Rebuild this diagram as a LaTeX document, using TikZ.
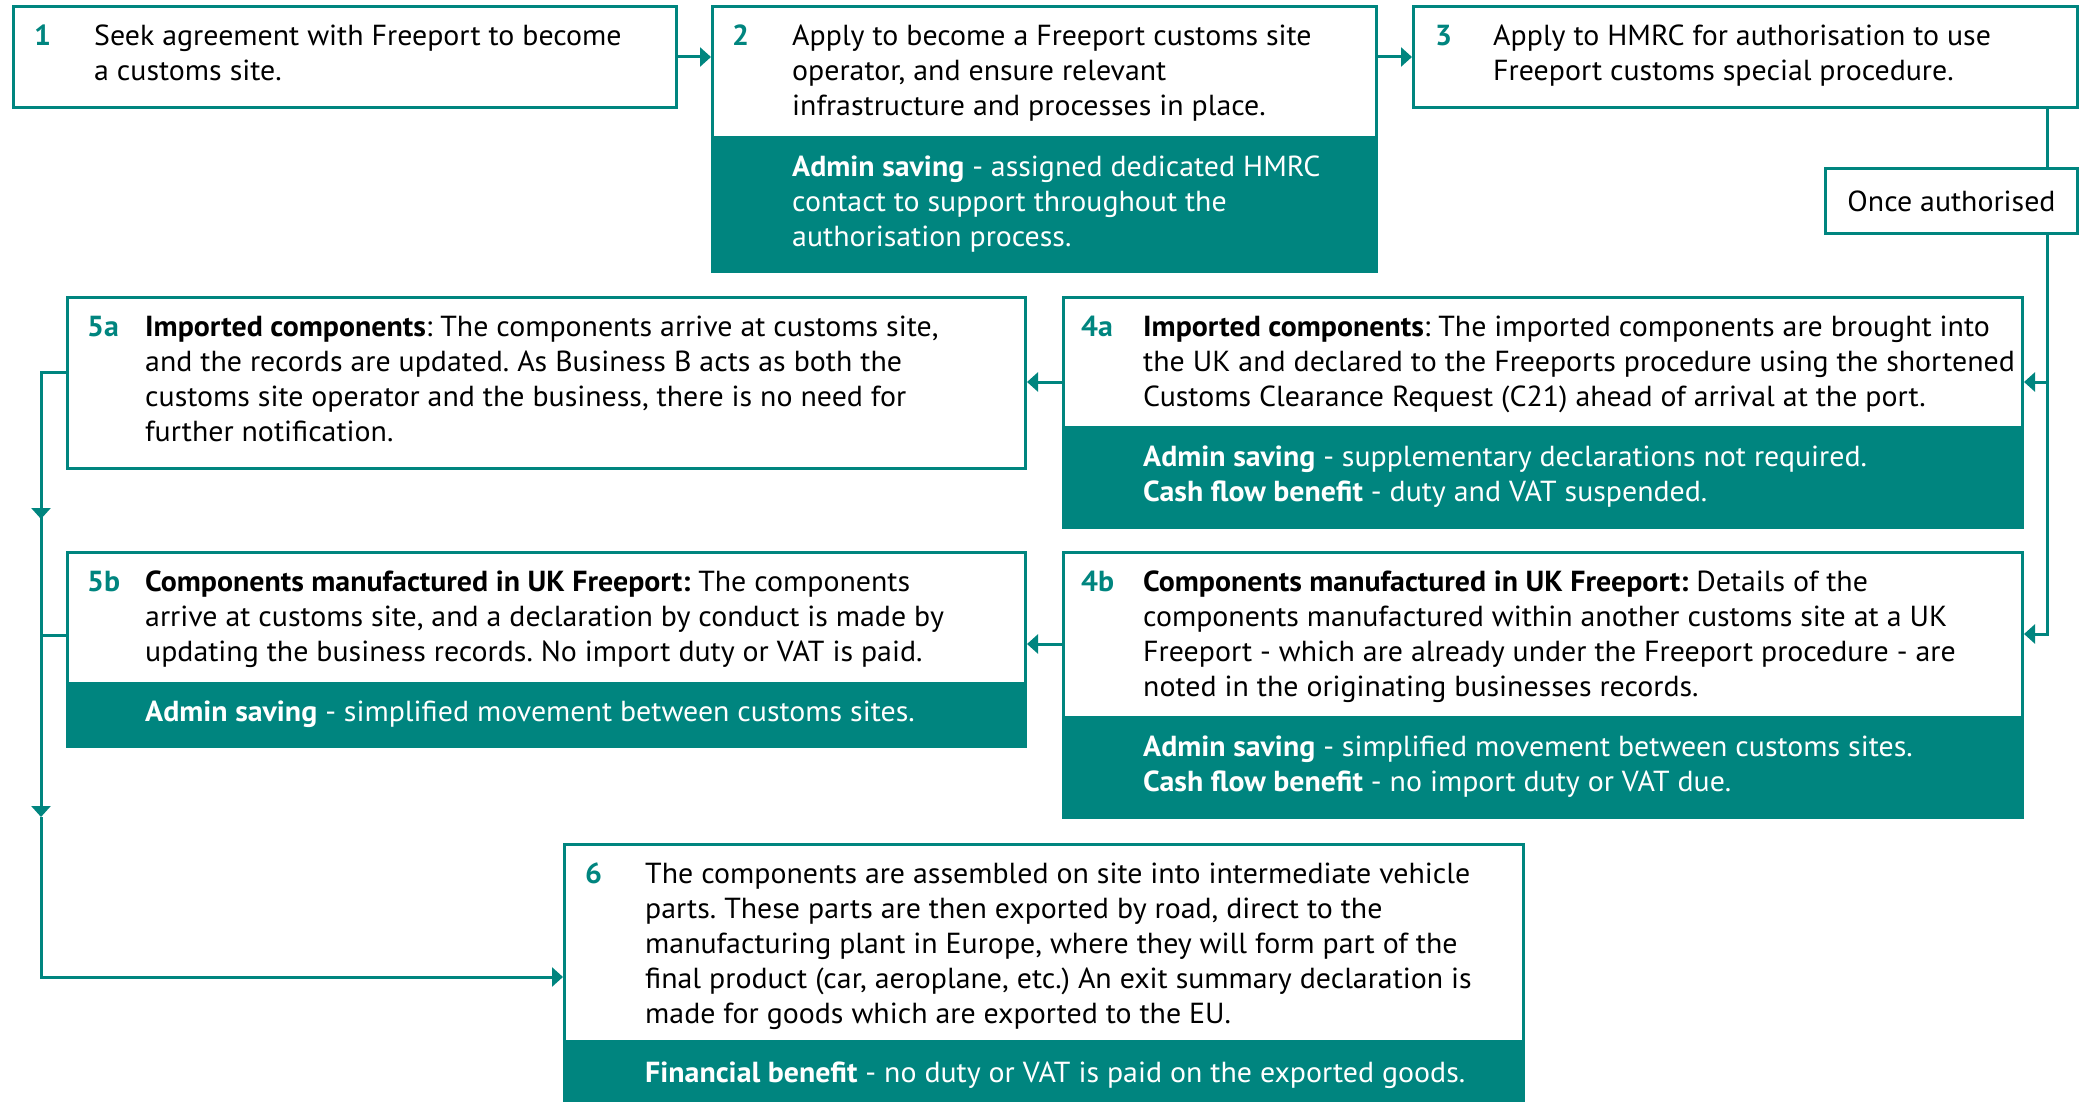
\documentclass[tikz,border=0pt]{standalone}
\usepackage{fontspec}
\setmainfont[FakeStretch=1.03]{PT Sans}
\usetikzlibrary{arrows.meta}
\definecolor{tl}{HTML}{00857F}
\newcommand{\st}{\rule{0pt}{22pt}}
\frenchspacing
\begin{document}
\begin{tikzpicture}[x=1pt,y=-1pt,
  box/.style={draw=tl, line width=3pt, fill=white, inner sep=0pt, anchor=north west},
  tealpart/.style={draw=tl, fill=tl, line width=3pt, inner sep=0pt, anchor=north west},
  num/.style={anchor=north west, inner sep=0pt, text=tl, font=\fontsize{29}{35}\selectfont\bfseries},
  txt/.style={anchor=north west, inner sep=0pt, align=left, font=\fontsize{29}{35}\selectfont},
  wtxt/.style={txt, text=white},
  conn/.style={draw=tl, line width=3pt},
  arr/.style={conn, -{Triangle[length=11pt,width=19pt]}}]
\useasboundingbox (0,0) rectangle (2080,1102);

% ---- boxes ----
\node[box, minimum width=663pt, minimum height=101pt] (b1) at (12,5) {};
\node[box, minimum width=664pt, minimum height=265pt] (b2) at (711,5) {};
\node[tealpart, minimum width=664pt, minimum height=134pt] (b2t) at (711,136) {};
\node[box, minimum width=664pt, minimum height=101pt] (b3) at (1412,5) {};
\node[box, minimum width=252pt, minimum height=65pt, font=\fontsize{29}{35}\selectfont] (oa) at (1824,167) {Once authorised};
\node[box, minimum width=959pt, minimum height=230pt] (b4a) at (1062,296) {};
\node[tealpart, minimum width=959pt, minimum height=100pt] (b4at) at (1062,426) {};
\node[box, minimum width=959pt, minimum height=265pt] (b4b) at (1062,551) {};
\node[tealpart, minimum width=959pt, minimum height=100pt] (b4bt) at (1062,716) {};
\node[box, minimum width=958pt, minimum height=171pt] (b5a) at (66,296) {};
\node[box, minimum width=958pt, minimum height=194pt] (b5b) at (66,551) {};
\node[tealpart, minimum width=958pt, minimum height=63pt] (b5bt) at (66,682) {};
\node[box, minimum width=959pt, minimum height=262pt] (b6) at (563,843) {};
\node[tealpart, minimum width=959pt, minimum height=65pt] (b6t) at (563,1040) {};

% ---- texts ----
\node[num] (n1) at (34,23) {\st 1};
\node[txt] (t1) at (94,23) {\st Seek agreement with Freeport to become\\a customs site.};
\node[num] (n2) at (732,23) {\st 2};
\node[txt] (t2) at (792,23) {\st Apply to become a Freeport customs site\\operator, and ensure relevant\\infrastructure and processes in place.};
\node[wtxt] (t2t) at (792,154) {\st\textbf{Admin saving} - assigned dedicated HMRC\\contact to support throughout the\\authorisation process.};
\node[num] (n3) at (1435,23) {\st 3};
\node[txt] (t3) at (1493,23) {\st Apply to HMRC for authorisation to use\\Freeport customs special procedure.};

\node[num] (n4a) at (1081,314) {\st 4a};
\node[txt] (t4a) at (1143,314) {\st\textbf{Imported components}: The imported components are brought into\\the UK and declared to the Freeports procedure using the shortened\\Customs Clearance Request (C21) ahead of arrival at the port.};
\node[wtxt] (t4at) at (1143,444) {\st\textbf{Admin saving} - supplementary declarations not required.\\\textbf{Cash flow benefit} - duty and VAT suspended.};

\node[num] (n4b) at (1081,569) {\st 4b};
\node[txt] (t4b) at (1143,569) {\st\textbf{Components manufactured in UK Freeport:} Details of the\\components manufactured within another customs site at a UK\\Freeport - which are already under the Freeport procedure - are\\noted in the originating businesses records.};
\node[wtxt] (t4bt) at (1143,734) {\st\textbf{Admin saving} - simplified movement between customs sites.\\\textbf{Cash flow benefit} - no import duty or VAT due.};

\node[num] (n5a) at (87,314) {\st 5a};
\node[txt] (t5a) at (145,314) {\st\textbf{Imported components}: The components arrive at customs site,\\and the records are updated. As Business B acts as both the\\customs site operator and the business, there is no need for\\further notification.};

\node[num] (n5b) at (87,569) {\st 5b};
\node[txt] (t5b) at (145,569) {\st\textbf{Components manufactured in UK Freeport:} The components\\arrive at customs site, and a declaration by conduct is made by\\updating the business records. No import duty or VAT is paid.};
\node[wtxt] (t5bt) at (145,699) {\st\textbf{Admin saving} - simplified movement between customs sites.};

\node[num] (n6) at (585,861) {\st 6};
\node[txt] (t6) at (645,861) {\st The components are assembled on site into intermediate vehicle\\parts. These parts are then exported by road, direct to the\\manufacturing plant in Europe, where they will form part of the\\final product (car, aeroplane, etc.) An exit summary declaration is\\made for goods which are exported to the EU.};
\node[wtxt] (t6t) at (645,1060) {\st\textbf{Financial benefit} - no duty or VAT is paid on the exported goods.};

% ---- connector helpers ----
\coordinate (vr) at (2047,0);
\coordinate (vl) at (41,0);
\coordinate (ya) at (0,382);
\coordinate (yb) at (0,634);
\coordinate (yb2) at (0,644);
\coordinate (y5a) at (0,372);
\coordinate (y5b) at (0,635);
\coordinate (m1) at (41,519);
\coordinate (m2) at (41,817);
\coordinate (y6) at (0,977);

% ---- connectors ----
\draw[arr] (b1.east) -- (b2.west |- b1.east);
\draw[arr] (b2.east |- b3.west) -- (b3.west);
\draw[conn] (vr |- b3.south) -- (vr |- oa.north);
\draw[arr] (vr |- oa.south) -- (vr |- yb) -- (b4b.east |- yb);
\draw[arr] (vr |- ya) -- (b4a.east |- ya);
\draw[arr] (b4a.west |- ya) -- (b5a.east |- ya);
\draw[arr] (b4b.west |- yb2) -- (b5b.east |- yb2);
\draw[conn] (b5a.west |- y5a) -- (vl |- y5a) -- (m1);
\draw[conn] (b5b.west |- y5b) -- (vl |- y5b);
\draw[arr] (vl |- y5a) -- (m1);
\draw[arr] (m1) -- (m2);
\draw[arr] (m2) -- (vl |- y6) -- (b6.west |- y6);
\end{tikzpicture}
\end{document}
